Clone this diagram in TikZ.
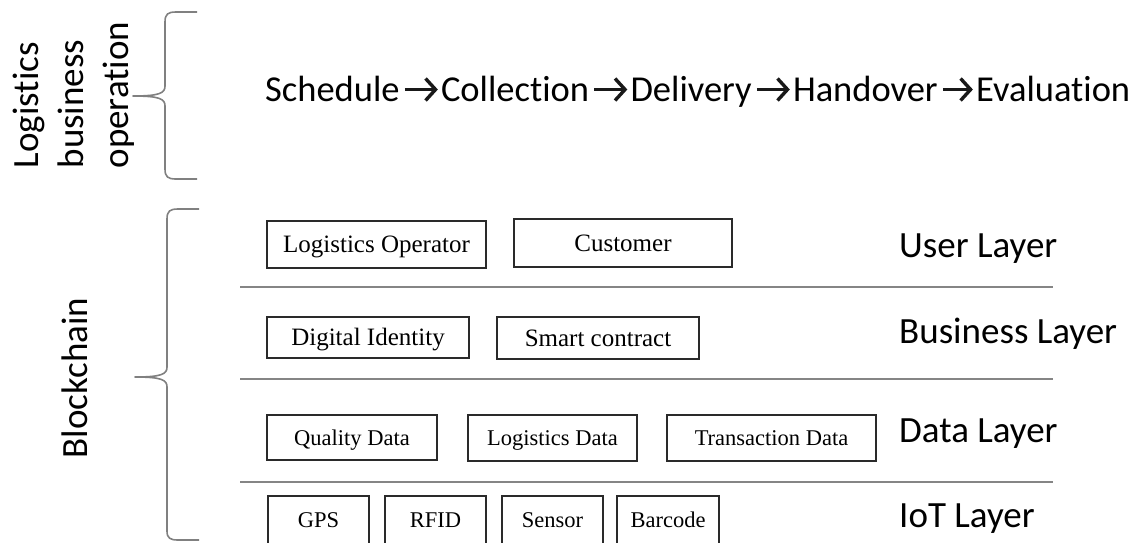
\documentclass[tikz,border=0pt]{standalone}
\usepackage{fontspec}
\setmainfont{Liberation Serif}
\newfontfamily\calibrifont[Ligatures=NoCommon]{Carlito}
\usetikzlibrary{arrows.meta}

\definecolor{boxline}{HTML}{2A2A2A}
\definecolor{sepline}{HTML}{858585}
\definecolor{braceline}{HTML}{808080}

\begin{document}
\begin{tikzpicture}[x=1pt,y=-1pt,
  lbl/.style={font=\calibrifont\fontsize{37}{45}\selectfont, inner sep=0pt, text=black},
  hd/.style={lbl, anchor=base west},
  chain/.style={hd, font=\calibrifont\fontsize{36.5}{44}\selectfont},
  harrow/.style={line width=3.4pt, line cap=butt, draw=black!90,
    -{Straight Barb[length=10pt,width=22pt,line width=3.4pt]}},
  box/.style={draw=boxline, line width=1.8pt, inner sep=0pt, text=black},
  bigbox/.style={box, font=\fontsize{25}{30}\selectfont, text height=16.5pt, text depth=0pt},
  smallbox/.style={box, font=\fontsize{22.5}{27}\selectfont, text height=15pt, text depth=0pt},
  iotbox/.style={box, font=\fontsize{22.5}{27}\selectfont, text height=15pt, text depth=5pt},
  sep/.style={draw=sepline, line width=1.6pt},
  brace/.style={draw=braceline, line width=1.6pt, line join=round}]

\useasboundingbox (0,0) rectangle (1141,542);
\clip (0,0) rectangle (1141,542);

% ---- process chain ----
\node[chain] (sch) at (265,101) {Schedule};
\node[chain] (col) at ([xshift=41pt]sch.base east) {Collection};
\node[chain] (del) at ([xshift=41pt]col.base east) {Delivery};
\node[chain] (han) at ([xshift=41pt]del.base east) {Handover};
\node[chain] (eva) at ([xshift=38pt]han.base east) {Evaluation};
\foreach \a/\b in {sch/col, col/del, del/han, han/eva}
  \draw[harrow] ([xshift=5pt,yshift=11.5pt]\a.base east) -- ([xshift=-3pt,yshift=11.5pt]\b.base west);

% ---- side labels ----
\node[lbl, rotate=90, align=left] (ops) at (74,95) {Logistics\\business\\operation};
\node[lbl, rotate=90] (bc) at (75,378) {Blockchain};

% ---- braces ----
\draw[brace] (197,12) -- (176,12) .. controls (168,12) and (165,14) .. (165,22)
  -- (165,86) .. controls (165,93) and (160,96) .. (133,96)
  .. controls (160,96) and (165,99) .. (165,106)
  -- (165,169) .. controls (165,177) and (168,179) .. (176,179) -- (197,179);
\draw[brace] (199,209) -- (178,209) .. controls (170,209) and (167,211) .. (167,219)
  -- (167,367) .. controls (167,374) and (162,377) .. (135,377)
  .. controls (162,377) and (167,380) .. (167,387)
  -- (167,531) .. controls (167,538) and (170,540) .. (178,540) -- (199,540);

% ---- layer separators ----
\draw[sep] (240,287) -- (1053,287);
\draw[sep] (240,379) -- (1053,379);
\draw[sep] (240,482) -- (1053,482);

% ---- layer names ----
\node[hd] (ul) at (899,257) {User Layer};
\node[hd] (bl) at (899,343) {Business Layer};
\node[hd] (dl) at (899,442) {Data Layer};
\node[hd] (il) at (899,527) {IoT Layer};

% ---- user layer ----
\node[bigbox, minimum width=219pt, minimum height=47pt] (lo) at (376.5,244.5) {Logistics Operator};
\node[bigbox, minimum width=218pt, minimum height=48pt] (cu) at (623,243) {Customer};

% ---- business layer ----
\node[bigbox, minimum width=202pt, minimum height=41pt] (di) at (368,337.5) {Digital Identity};
\node[bigbox, minimum width=202pt, minimum height=42pt] (sc) at (598,338) {Smart contract};

% ---- data layer ----
\node[smallbox, minimum width=170pt, minimum height=45pt] (qd) at (352,437.5) {Quality Data};
\node[smallbox, minimum width=169pt, minimum height=46pt] (ld) at (552.5,438) {Logistics Data};
\node[smallbox, minimum width=209pt, minimum height=46pt] (td) at (771.5,438) {Transaction Data};

% ---- IoT layer ----
\node[iotbox, minimum width=101pt, minimum height=52pt] (gps) at (318.5,522) {GPS};
\node[iotbox, minimum width=101pt, minimum height=52pt] (rf) at (435.5,522) {RFID};
\node[iotbox, minimum width=101pt, minimum height=52pt] (se) at (552.5,522) {Sensor};
\node[iotbox, minimum width=102pt, minimum height=52pt] (bar) at (668,522) {Barcode};
\end{tikzpicture}
\end{document}
